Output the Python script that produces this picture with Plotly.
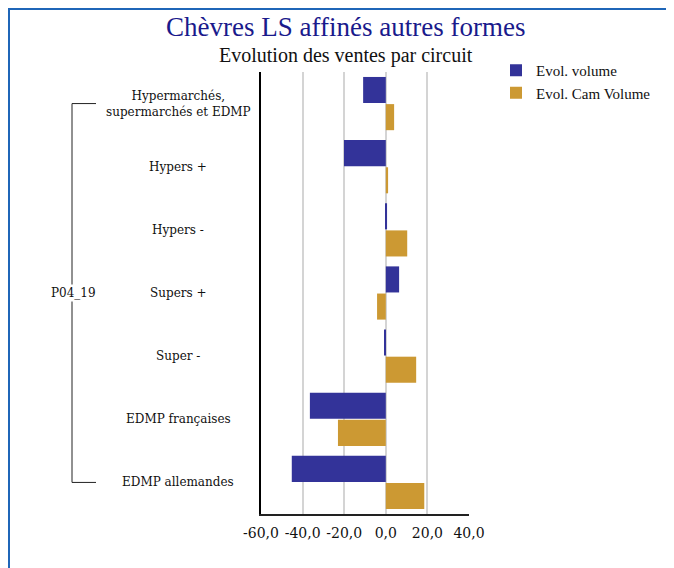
import plotly.graph_objects as go

# Data
categories = [
    "Hypermarchés,<br>supermarchés et EDMP",
    "Hypers +",
    "Hypers -",
    "Supers +",
    "Super -",
    "EDMP françaises",
    "EDMP allemandes",
]
evol_volume = [-10.9, -20.1, 0.6, 6.4, -0.4, -36.5, -45.2]
evol_cam_volume = [4.0, 1.1, 10.3, -4.2, 14.6, -23.0, 18.5]
group_label = "P04_19"
x_ticks = [-60, -40, -20, 0, 20, 40]
x_ticktext = [f"{v:.1f}".replace(".", ",") for v in x_ticks]

TITLE = "Chèvres LS affinés autres formes"
SUBTITLE = "Evolution des ventes par circuit"

SERIF = "Liberation Serif"
LABEL_FONT = "DejaVu Serif"

# plot area as seen on screen (px); the page body adds an 8px offset
OFF = 8
L, R, T, B = 261, 469, 72, 514
W, H = 700, 600          # a bit larger than the window, the extra is off-screen
pw, ph = R - L, B - T


def px_x(x):
    return (x - L) / pw


def px_y(y):
    return (B - y) / ph


fig = go.Figure()

fig.add_trace(go.Bar(
    y=categories, x=evol_volume, orientation="h",
    name="Evol. volume", marker=dict(color="#333399", line=dict(width=0)),
))
fig.add_trace(go.Bar(
    y=categories, x=evol_cam_volume, orientation="h",
    name="Evol. Cam Volume", marker=dict(color="#CC9933", line=dict(width=0)),
))

# category labels, centred like in the reference
for c in categories:
    fig.add_annotation(
        x=px_x(178), xref="paper", y=c, yref="y", text=c,
        showarrow=False, xanchor="center", yanchor="middle",
        font=dict(family=LABEL_FONT, size=12, color="#111111"), align="center",
    )

# bracket grouping all circuits
line_style = dict(color="#222222", width=1)
fig.add_shape(type="line", xref="paper", yref="y",
              x0=px_x(72), x1=px_x(72), y0=categories[0], y1=categories[-1], line=line_style)
fig.add_shape(type="line", xref="paper", yref="y",
              x0=px_x(72), x1=px_x(96), y0=categories[0], y1=categories[0], line=line_style)
fig.add_shape(type="line", xref="paper", yref="y",
              x0=px_x(72), x1=px_x(96), y0=categories[-1], y1=categories[-1], line=line_style)
fig.add_annotation(
    x=px_x(73), xref="paper", y=categories[3], yref="y", text=group_label,
    showarrow=False, xanchor="center", yanchor="middle", bgcolor="white",
    font=dict(family=LABEL_FONT, size=12, color="#111111"),
)

# titles
fig.add_annotation(
    x=px_x(345), xref="paper", y=px_y(27), yref="paper", text=TITLE,
    showarrow=False, xanchor="center", yanchor="middle",
    font=dict(family=SERIF, size=27, color="#1a1a8c"),
)
fig.add_annotation(
    x=px_x(346), xref="paper", y=px_y(56), yref="paper", text=SUBTITLE,
    showarrow=False, xanchor="center", yanchor="middle",
    font=dict(family=SERIF, size=20, color="#111111"),
)

# blue frame (left + top), kept just inside the figure's edge
frame = dict(color="#1f66b8", width=2)
fig.add_shape(type="line", xref="paper", yref="paper",
              x0=px_x(OFF + 1), x1=px_x(OFF + 1), y0=px_y(OFF + 1), y1=px_y(H + 20), line=frame)
fig.add_shape(type="line", xref="paper", yref="paper",
              x0=px_x(OFF), x1=px_x(W + 20), y0=px_y(OFF + 1), y1=px_y(OFF + 1), line=frame)

fig.update_layout(
    width=W, height=H,
    margin=dict(l=L - OFF, r=W - R + OFF, t=T - OFF, b=H - B + OFF, pad=0),
    paper_bgcolor="white", plot_bgcolor="white",
    barmode="group", bargap=0.14, bargroupgap=0.04,
    showlegend=True,
    legend=dict(
        x=px_x(496), y=px_y(54), xanchor="left", yanchor="top",
        font=dict(family=SERIF, size=15, color="#111111"),
        itemsizing="constant", tracegroupgap=0, bgcolor="rgba(0,0,0,0)",
    ),
    xaxis=dict(
        range=[-60, 40], tickvals=x_ticks, ticktext=x_ticktext, tickangle=0,
        showgrid=True, gridcolor="#d4d4d4", gridwidth=1.5,
        zeroline=False, showline=True, linecolor="#222222", linewidth=1.5,
        ticks="outside", ticklen=5, tickcolor="rgba(0,0,0,0)",
        tickfont=dict(family=LABEL_FONT, size=14, color="#111111"),
    ),
    yaxis=dict(
        autorange="reversed", showticklabels=False, showgrid=False,
        showline=True, linecolor="#000000", linewidth=1.5, ticks="", zeroline=False,
    ),
)

fig.write_html("out.html")
